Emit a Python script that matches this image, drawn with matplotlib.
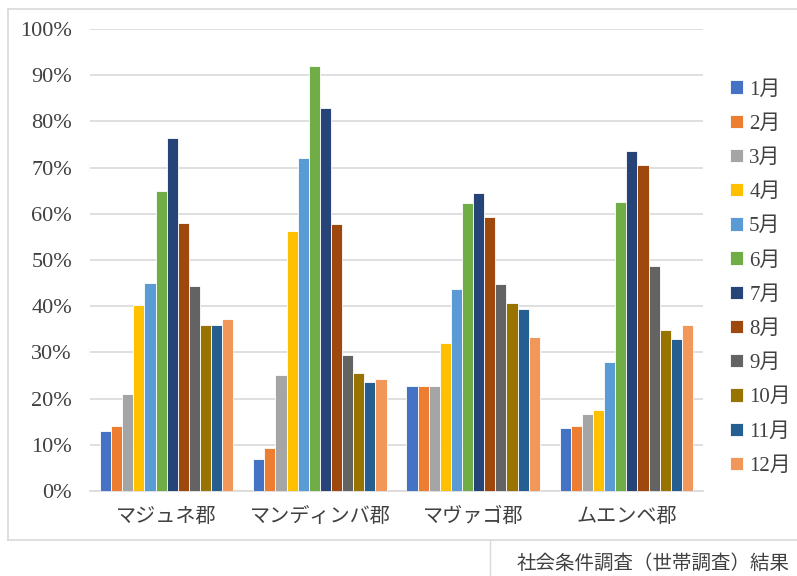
import matplotlib
matplotlib.use("Agg")
import matplotlib.pyplot as plt
import numpy as np
from matplotlib.lines import Line2D

plt.rcParams['font.family'] = ['Liberation Serif', 'Noto Sans CJK JP', 'DejaVu Sans']

categories = ["マジュネ郡", "マンディンバ郡", "マヴァゴ郡", "ムエンベ郡"]
months = ["1月", "2月", "3月", "4月", "5月", "6月", "7月", "8月", "9月", "10月", "11月", "12月"]
colors = ["#4472C4", "#ED7D31", "#A5A5A5", "#FFC000", "#5B9BD5", "#70AD47",
          "#264478", "#9E480E", "#636363", "#997300", "#255E91", "#F1975A"]

# values in % per district, months 1..12
majune   = [13.0, 14.0, 21.0, 40.3, 45.0, 65.0, 76.4, 58.0, 44.4, 36.0, 36.0, 37.2]
mandimba = [7.0, 9.3, 25.2, 56.3, 72.1, 92.0, 82.9, 57.8, 29.5, 25.5, 23.5, 24.2]
mavago   = [22.8, 22.8, 22.8, 32.0, 43.7, 62.4, 64.5, 59.2, 44.8, 40.6, 39.4, 33.3]
muembe   = [13.7, 14.1, 16.6, 17.5, 28.0, 62.5, 73.6, 70.5, 48.7, 34.8, 32.9, 36.0]

data = np.array([majune, mandimba, mavago, muembe])  # shape (4, 12)

W, H = 797, 576
fig = plt.figure(figsize=(W / 100, H / 100), dpi=100)

# outer chart border
fig.add_artist(Line2D([8 / W, 8 / W], [1 - 9 / H, 1 - 540 / H], color="#D9D9D9", lw=1.2))
fig.add_artist(Line2D([8 / W, 1.0], [1 - 9 / H, 1 - 9 / H], color="#D9D9D9", lw=1.2))
fig.add_artist(Line2D([8 / W, 1.0], [1 - 540 / H, 1 - 540 / H], color="#D9D9D9", lw=1.2))
fig.add_artist(Line2D([490 / W, 490 / W], [1 - 540 / H, 0], color="#D9D9D9", lw=1.0))

ax = fig.add_axes([90 / W, 1 - 491 / H, 613 / W, 462 / H])

n = len(months)
x = np.arange(len(categories))
group_w = 0.87
bw = group_w / n
for i in range(n):
    ax.bar(x - group_w / 2 + bw * (i + 0.5), data[:, i] / 100.0, width=bw,
           color=colors[i], edgecolor="white", linewidth=0.6, label=months[i], zorder=3)

ax.set_xlim(-0.5, len(categories) - 0.5)
ax.set_ylim(0, 1.0)
ax.set_yticks(np.arange(0, 1.01, 0.1))
ax.set_yticklabels([f"{int(round(v * 100))}%" for v in np.arange(0, 1.01, 0.1)], fontsize=16, color="#404040")
ax.set_xticks(x)
ax.set_xticklabels(categories, fontsize=14.5, color="#404040")
ax.tick_params(axis="both", length=0)
ax.tick_params(axis="y", pad=13)
ax.tick_params(axis="x", pad=12)
ax.grid(axis="y", color="#D9D9D9", lw=1.2, zorder=0)
for s in ["top", "right", "left"]:
    ax.spines[s].set_visible(False)
ax.spines["bottom"].set_color("#D9D9D9")
ax.spines["bottom"].set_linewidth(1.2)

leg = fig.legend(loc="upper left", bbox_to_anchor=(720 / W, 1 - 70 / H), frameon=False,
                 fontsize=15, handlelength=0.6, handleheight=0.6, handletextpad=0.3,
                 labelspacing=0.73, borderpad=0)
for t in leg.get_texts():
    t.set_color("#404040")

fig.text(790 / W, 1 - 563 / H, "社会条件調査（世帯調査）結果", ha="right", va="center",
         fontsize=14, color="#404040", family=["Noto Sans CJK JP", "DejaVu Sans"])

fig.savefig("out.png", dpi=100)
